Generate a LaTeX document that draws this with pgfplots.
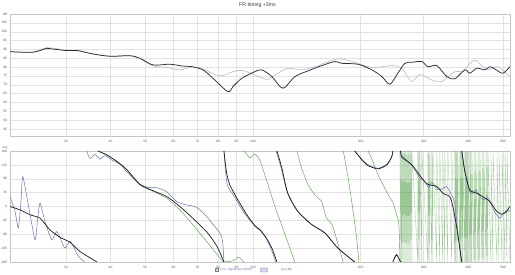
\documentclass[border=0pt]{standalone}
\usepackage{fontspec}
\setmainfont{Liberation Sans}
\usepackage{pgfplots}
\pgfplotsset{compat=1.18}
\definecolor{frblack}{RGB}{45,45,50}
\definecolor{frgray}{RGB}{190,180,208}
\definecolor{phblack}{RGB}{25,25,30}
\definecolor{phblue}{RGB}{112,112,172}
\definecolor{phgreen}{RGB}{88,160,78}
\definecolor{gridc}{RGB}{226,226,226}
\definecolor{framec}{RGB}{196,196,196}
\definecolor{legpurple}{RGB}{120,80,170}
\pgfplotsset{
  phase/.style={line width=0.7pt, phblack},
  phb/.style={line width=0.5pt, phblue},
  phg/.style={line width=0.45pt, phgreen},
}
\begin{document}
\begin{tikzpicture}
\useasboundingbox (0,0) rectangle (515pt,-275pt);
% ---------------- top: SPL ----------------
\begin{axis}[xmode=log, xmin=20.95, xmax=523,
  scale only axis, width=500pt, height=122pt,
  at={(10pt,-14pt)}, anchor=north west,
  axis line style={framec, line width=0.4pt},
  xtick={30,40,50,60,70,80,90,100,200,300,400,500},
  xticklabels={30,40,50,60,70,80,90,100,200,300,400,500},
  minor xtick={},
  xmajorgrids, ymajorgrids,
  major grid style={gridc, line width=0.3pt},
  major tick length=0pt,
  tick label style={font=\fontsize{3.3}{3.6}\selectfont, text=black!65},
  yticklabel style={xshift=0.6pt},
  xticklabel style={yshift=-0.6pt},
  /pgf/number format/assume math mode=true,
  ymin=41, ymax=110, ytick={45,50,55,60,65,70,75,80,85,90,95,100,105,110},
  yticklabels={45,50,55,60,65,70,75,80,85,90,95,100,105,dB}]
\addplot[frgray, line width=0.6pt, smooth, tension=0.5] coordinates {
(20.95,88.7)(24.3,88.4)(26.6,90.9)(30.2,89.5)(32.4,89.3)(35.7,87.4)(39.9,86.1)(45.3,86.4)(48.3,84.8)(52.6,80.6)(57.5,79.7)(62.5,78.4)(67.9,80.1)(72.5,78.8)(80.9,75.0)(87.9,77.4)(93.8,78.0)(101.3,75.5)(104.6,74.2)(110.1,73.1)(117.5,76.5)(125.2,79.3)(137.0,78.4)(149.0,80.2)(172.8,84.6)(192.7,82.7)(215.0,79.7)(244.5,80.8)(260.8,79.3)(278.1,71.8)(292.7,75.9)(316.2,72.7)(337.3,71.8)(366.6,77.4)(386.0,77.4)(398.6,80.8)(417.0,84.0)(436.1,80.8)(453.3,78.4)(483.4,80.2)(515.6,75.5)(522.3,75.0)};
\addplot[frblack, line width=0.75pt, smooth, tension=0.5] coordinates {
(20.95,88.7)(24.3,88.4)(26.6,90.6)(27.6,90.2)(30.2,89.3)(32.4,89.3)(35.7,87.4)(39.9,86.1)(45.3,86.4)(48.3,85.0)(52.6,81.2)(58.6,81.6)(63.3,80.6)(67.5,80.2)(72.5,78.4)(77.3,73.7)(85.1,66.1)(87.9,68.9)(93.2,73.7)(101.3,77.4)(106.0,78.4)(113.0,74.6)(121.3,68.0)(131.0,74.6)(142.4,77.8)(155.8,80.8)(169.5,83.1)(177.3,82.1)(196.5,81.6)(215.0,78.4)(229.3,74.6)(241.4,70.3)(254.1,76.5)(265.9,82.1)(278.1,82.7)(296.5,83.1)(308.2,80.2)(326.6,80.8)(348.3,74.6)(366.6,73.3)(391.0,78.4)(403.7,76.5)(422.4,79.3)(444.6,78.4)(459.2,80.2)(474.2,78.9)(499.2,76.5)(522.3,80.2)};
\end{axis}
% ---------------- bottom: phase ----------------
\begin{axis}[xmode=log, xmin=20.95, xmax=523,
  scale only axis, width=500pt, height=111pt,
  at={(10pt,-151pt)}, anchor=north west,
  axis line style={framec, line width=0.4pt},
  xtick={30,40,50,60,70,80,90,100,200,300,400,500},
  xticklabels={30,40,50,60,70,80,90,100,200,300,400,500},
  minor xtick={},
  xmajorgrids, ymajorgrids,
  major grid style={gridc, line width=0.3pt},
  major tick length=0pt,
  tick label style={font=\fontsize{3.3}{3.6}\selectfont, text=black!65},
  yticklabel style={xshift=0.6pt},
  xticklabel style={yshift=-0.6pt},
  /pgf/number format/assume math mode=true,
  ymin=-180, ymax=180, ytick={-180,-135,-90,-45,0,45,90,135,180},
  yticklabels={-180,-135,-90,-45,0,45,90,135,180}]
% green
\addplot[phg, opacity=0.6, line width=0.3pt] coordinates {
(257.4,180)(259.1,-180)(259.1,180)(260.7,-180)(260.7,180)(262.4,-180)(262.4,180)(264.1,-180)(264.1,180)(265.8,-180)(265.8,180)(267.5,-180)(267.5,180)(269.2,-180)(269.2,180)(271.0,-180)(271.0,180)(272.7,-180)(272.7,180)(274.5,-180)(274.5,180)(276.3,-180)(276.3,180)(278.1,-180)(278.1,180)(289.0,-180)(289.0,180)(290.9,-180)(290.9,180)(292.8,-180)(292.8,180)(296.6,-180)(296.6,180)(308.2,-180)(308.2,180)(310.2,-180)(310.2,180)(312.2,-180)(312.2,180)(316.2,-180)(316.2,180)(318.3,-180)(318.3,180)(326.6,-180)(326.6,180)(333.0,-180)(333.0,180)(339.5,-180)(339.5,180)(343.9,-180)(343.9,180)(350.6,-180)(350.6,180)(359.7,-180)(359.7,180)(366.8,-180)(366.8,180)(369.1,-180)(369.1,180)(371.5,-180)(371.5,180)(373.9,-180)(373.9,180)(378.8,-180)(378.8,180)(381.2,-180)(381.2,180)(383.7,-180)(383.7,180)(386.2,-180)(386.2,180)(391.2,-180)(391.2,180)(393.7,-180)(393.7,180)(396.3,-180)(396.3,180)(398.8,-180)(398.8,180)(404.0,-180)(404.0,180)(406.6,-180)(406.6,180)(409.3,-180)(409.3,180)(414.6,-180)(414.6,180)(417.3,-180)(417.3,180)(420.0,-180)(420.0,180)(425.4,-180)(425.4,180)(428.2,-180)(428.2,180)(431.0,-180)(431.0,180)(436.6,-180)(436.6,180)(439.4,-180)(439.4,180)(442.2,-180)(442.2,180)(448.0,-180)(448.0,180)(450.9,-180)(450.9,180)(453.8,-180)(453.8,180)(462.6,-180)(462.6,180)(468.6,-180)(468.6,180)(480.9,-180)(480.9,180)(487.1,-180)(487.1,180)(496.7,-180)(496.7,180)(506.4,-180)(506.4,180)(513.0,-180)(513.0,180)(523.0,-180)};
\addplot[phg, smooth, tension=0.4] coordinates {(36.9,180)(39.1,167)(41.7,146)(44.46,119)(48.3,70)(52.6,49)(57.42,27)(62.5,-11)(67.9,-59)(74.2,-113)(80.9,-167)(82.6,-180)};
\addplot[phg, smooth, tension=0.4] coordinates {(82.6,-180)(88.1,-176)(91.0,-164)(93.0,-173)(94.4,-180)};
\addplot[phg, smooth, tension=0.4] coordinates {(94.4,180)(98.1,158)(101.3,170)(104.6,150)(106,130)(110.3,70)(115.2,0)(120.3,-60)(125.5,-120)(131.0,-180)};
\addplot[phg, smooth, tension=0.4] coordinates {(132.7,180)(136.8,124)(142.7,70)(149.0,38)(155.5,16)(160.6,-38)(166.5,-59)(173.1,-124)(178.8,-180)};
\addplot[phg, smooth, tension=0.4] coordinates {(178.9,180)(184.6,92)(190.6,-16)(194.9,-102)(197.8,-180)};
\addplot[phg, smooth, tension=0.4] coordinates {(209.9,180)(214.6,156)(223.9,102)(233.8,59)(238.8,38)(246.5,11)(252.0,-27)(255.7,-54)(257.9,-180)};
% blue
\addplot[phb, smooth, tension=0.35] coordinates {(20.95,32)(21.64,-16)(22.10,-70)(22.45,5)(22.74,97)(23.57,5)(24.61,-108)(24.98,-49)(25.41,11)(26.24,-49)(27.40,-108)(28.29,-81)(29.21,-113)(29.84,-135)(30.82,-113)(31.48,-129)(32.51,-162)(33.94,-180)};
\addplot[phb, smooth, tension=0.4] coordinates {(34.31,180)(35.05,156)(36.20,169)(37.37,154)(38.59,165)(40.29,151)(42.50,137)(45.3,102)(48.3,72)(51.56,61)(53.83,61)(57.42,48)(61.22,16)(65.29,5)(69.64,-3)(74.22,-32)(77.45,-59)(80.9,-86)(82.3,-113)(82.99,-180)};
\addplot[phb, smooth, tension=0.4] coordinates {(83.0,180)(84.43,81)(86.2,54)(88.1,38)(93.95,-16)(101.3,-65)(104.6,-77)(108.7,-102)(112.3,-137)(115.9,-180)};
\addplot[phb, smooth, tension=0.4] coordinates {(116.0,180)(120.0,124)(124.8,45)(133.0,-14)(145.5,-57)(158.5,-84)(172.3,-133)(192.0,-180)};
\addplot[phb, smooth, tension=0.4] coordinates {(192.1,180)(201.6,153)(209.5,136)(223.5,124)(236.7,137)(244.5,163)(246.1,180)};
\addplot[phb, smooth, tension=0.4] coordinates {(246.1,-180)(252,-155)(258.5,-180)};
\addplot[phb, smooth, tension=0.4] coordinates {(258.6,180)(260.3,165)(277.6,135)(292.7,92)(302.3,81)(310.2,61)(316.8,79)(328.1,54)(340.2,59)(347.6,65)(358.9,38)(366.6,11)(372,-60)(382.8,-180)};
\addplot[phb, smooth, tension=0.4] coordinates {(383.6,180)(391.0,119)(403.7,48)(412.5,43)(418.9,54)(427.9,38)(439.8,22)(454.2,27)(466.0,0)(476.3,-22)(489.7,-38)(500.3,-22)(516.6,-11)(522.3,-16)};
% black
\addplot[phase, smooth, tension=0.4] coordinates {(20.95,0)(22.35,-11)(23.84,-27)(25.41,-38)(27.10,-76)(28.90,-100)(30.82,-116)(32.87,-146)(36.67,-180)};
\addplot[phase, smooth, tension=0.4] coordinates {(36.9,180)(39.1,167)(41.7,146)(44.46,119)(48.3,72)(52.6,51)(57.5,32)(62.5,0)(67.9,-38)(74.4,-83)(79.35,-129)(82.99,-180)};
\addplot[phase, smooth, tension=0.4] coordinates {(83.0,180)(84.4,110)(86.2,70)(90.2,27)(96.2,-27)(101.3,-62)(104.6,-75)(108.7,-100)(113.0,-135)(116.7,-180)};
\addplot[phase, smooth, tension=0.4] coordinates {(116.8,180)(120.5,124)(125.2,43)(133.6,-16)(146.1,-59)(158.9,-86)(172.8,-135)(192.7,-180)};
\addplot[phase, smooth, tension=0.4] coordinates {(192.8,180)(201.6,151)(209.5,133)(223.5,122)(236.7,135)(244.5,162)(246.1,180)};
\addplot[phase, smooth, tension=0.4] coordinates {(246.2,-180)(252,-157)(258.5,-180)};
\addplot[phase, smooth, tension=0.4] coordinates {(258.6,180)(260.8,160)(278.1,135)(296.5,92)(308.2,72)(326.6,65)(339.5,43)(354.9,32)(362.1,0)(371.5,-70)(383.5,-180)};
\addplot[phase, smooth, tension=0.4] coordinates {(383.6,180)(391.0,113)(403.7,54)(422.4,43)(438.9,32)(459.2,16)(480.3,-16)(496.0,-25)(510.0,-18)(522.3,0)};
\end{axis}
% title and legend
\node[font=\fontsize{5.2}{6}\selectfont, text=black!80] at (257.5pt,-5pt) {FR timing +3ms};
\node[font=\fontsize{3}{3.5}\selectfont, text=black!60] at (5pt,-148pt) {deg};
\node[draw=black!50, fill=legpurple!30, inner sep=0pt, minimum size=3pt] at (216.5pt,-270pt) {};
\node[anchor=west, font=\fontsize{3}{3.5}\selectfont, text=legpurple, inner sep=0pt] at (220pt,-270pt) {1 FL, Signal sum (SOS)};
\node[draw=legpurple, fill=legpurple!25, rounded corners=0.8pt, inner sep=0pt, minimum width=7pt, minimum height=4pt] at (264pt,-270pt) {};
\node[anchor=west, font=\fontsize{3}{3.5}\selectfont, text=legpurple, inner sep=0pt] at (281pt,-270pt) {(3.4 dB)};
\end{tikzpicture}
\end{document}
